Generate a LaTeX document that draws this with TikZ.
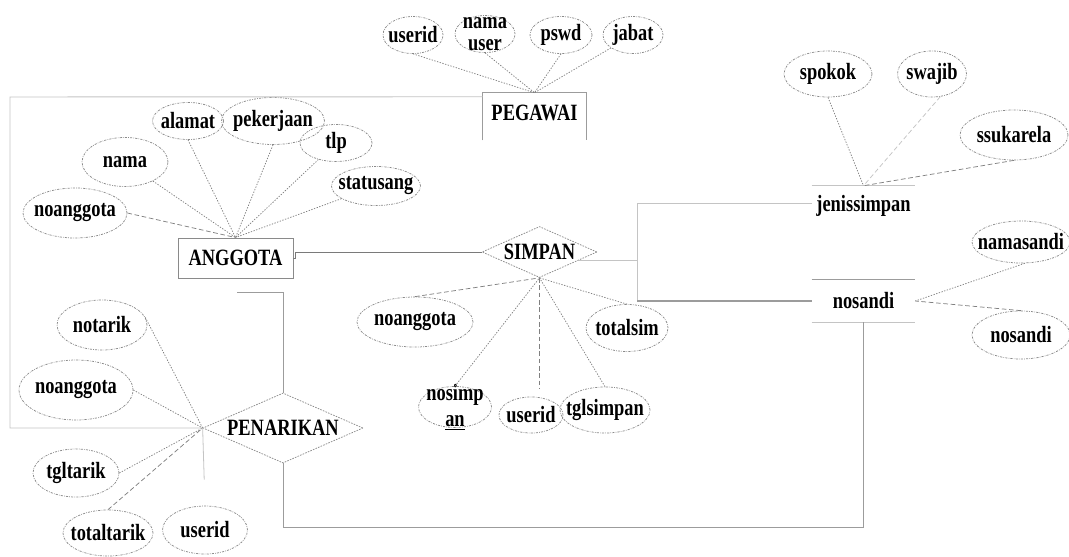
\documentclass[tikz,border=0pt]{standalone}
\usepackage{fontspec}
\setmainfont{Liberation Serif}[FakeStretch=0.79]
\usetikzlibrary{shapes.geometric,calc}
\definecolor{rimgray}{HTML}{8A8A8A}
\definecolor{darkline}{HTML}{7A7A7A}
\definecolor{midline}{HTML}{9C9C9C}
\definecolor{lightline}{HTML}{C4C4C4}
\definecolor{attrgray}{HTML}{808080}
\tikzset{
  lbl/.style={inner sep=0pt, align=center, text=black},
  % attribute ellipse: width, height (px), text
  attr/.style n args={3}{ellipse, draw=rimgray, line width=0.55pt,
    dash pattern=on 1.6pt off 0.9pt on 0.5pt off 0.9pt,
    inner sep=0pt, minimum width=#1*0.75pt, minimum height=#2*0.75pt,
    label={[lbl]center:#3}},
  % relationship diamond: width, height (px), text
  rel/.style n args={3}{diamond, draw=rimgray, line width=0.55pt,
    dash pattern=on 1.2pt off 0.9pt,
    inner sep=0pt, minimum width=#1*0.75pt, minimum height=#2*0.75pt,
    label={[lbl]center:#3}},
  ent/.style n args={2}{rectangle, inner sep=0pt,
    minimum width=#1*0.75pt, minimum height=#2*0.75pt},
  aline/.style={draw=attrgray, line width=0.55pt, dash pattern=on 1pt off 1.1pt},
  adash/.style={draw=attrgray, line width=0.55pt, dash pattern=on 3.5pt off 2pt},
  conn/.style={draw=midline, line width=0.7pt},
}
\begin{document}
\begin{tikzpicture}[x=0.75pt, y=-0.75pt, font=\fontsize{17.5}{16}\selectfont\bfseries]
\useasboundingbox[fill=white] (0,0) rectangle (1069,556);

% ---------- entities ----------
\node[ent={103}{47}] (peg) at (534.5,116.5) {};
\node[lbl] at (534.5,113) {PEGAWAI};
\draw[draw=midline, line width=0.7pt] (peg.south west) -- (peg.north west) -- (peg.north east) -- (peg.south east);

\node[ent={115}{40}, draw=rimgray, line width=0.7pt] (ang) at (235.5,258) {ANGGOTA};

\node[ent={103}{40}] (js) at (863.5,206) {jenissimpan};
\draw[draw=lightline, line width=0.7pt] (js.north west) -- (js.north east);

\node[ent={103}{42}] (ns) at (863.5,301) {nosandi};
\draw[draw=midline, line width=0.8pt] (ns.north west) -- (ns.north east);
\draw[draw=lightline, line width=0.7pt] (ns.south west) -- (ns.south east);

% ---------- relationships ----------
\node[rel={115}{51}{SIMPAN}] (sim) at (539.5,252) {};
\node[rel={160}{70}{PENARIKAN}] (pen) at (283,428) {};

% ---------- PEGAWAI attributes ----------
\node[attr={60}{37}{userid}] (pu1) at (413,35) {};
\node[attr={60}{37}{nama\\[0pt]user}] (pu2) at (485,34) {};
\node[attr={62}{37}{pswd}] (pu3) at (561,35) {};
\node[attr={60}{37}{jabat}] (pu4) at (633,35) {};
\draw[aline] (pu1.south) -- (peg.north);
\draw[aline] (pu2.south) -- (peg.north);
\draw[aline] (pu3.south) -- (peg.north);
\draw[aline] (pu4) -- (peg.north);

% ---------- ANGGOTA attributes ----------
\node[attr={104}{50}{noanggota}] (aa1) at (75,213) {};
\node[attr={86}{49}{nama}] (aa2) at (125,162) {};
\node[attr={71}{37}{alamat}] (aa3) at (188,121) {};
\node[attr={103}{47}{pekerjaan}] (aa4) at (273,121) {};
\node[attr={72}{37}{tlp}] (aa5) at (336,143) {};
\node[attr={89}{39}{statusang}] (aa6) at (376,186) {};
\draw[adash] (aa1.east) -- (ang.north);
\draw[aline] (aa2) -- (ang.north);
\draw[aline] (aa3.south) -- (ang.north);
\draw[aline] (aa4.south) -- (ang.north);
\draw[aline] (aa5) -- (ang.north);
\draw[aline] (aa6) -- (ang.north);

% ---------- SIMPAN attributes ----------
\node[attr={116}{50}{noanggota}] (sa1) at (415,322) {};
\node[attr={82}{47}{totalsim}] (sa2) at (627,328) {};
\node[attr={73}{41}{nosimp\\[4pt]\underline{an}}] (sa3) at (455,407) {};
\node[attr={64}{36}{userid}] (sa4) at (531,415) {};
\node[attr={90}{46}{tglsimpan}] (sa5) at (605,410) {};
\draw[adash] (sa1.north) -- (sim.south);
\draw[aline] (sa2.north) -- (sim.south);
\draw[aline] (sa3.north) -- (sim.south);
\draw[adash] (sim.south) -- ($(sim.south |- sa4.north)+(0,-8)$);
\draw[aline] (sa5.north) -- (sim.south);

% ---------- jenissimpan attributes ----------
\node[attr={88}{46}{spokok}] (ja1) at (828,74) {};
\node[attr={69}{46}{swajib}] (ja2) at (932,74) {};
\node[attr={108}{50}{ssukarela}] (ja3) at (1014,135) {};
\draw[aline] (ja1.south) -- (js.north);
\draw[adash, draw=lightline] (ja2.-70) -- (js.north);
\draw[adash] (ja3.south) -- (js.north);

% ---------- nosandi attributes ----------
\node[attr={98}{42}{namasandi}] (na1) at (1021,242) {};
\node[attr={98}{48}{nosandi}] (na2) at (1021,335) {};
\draw[aline] (na1.-80) -- (ns.east);
\draw[adash] (na2.north) -- (ns.east);

% ---------- PENARIKAN attributes ----------
\node[attr={90}{50}{notarik}] (pa1) at (102,325) {};
\node[attr={114}{60}{noanggota}] (pa2) at (76,390) {};
\node[attr={86}{48}{tgltarik}] (pa3) at (76,473) {};
\node[attr={90}{46}{totaltarik}] (pa4) at (108,533) {};
\node[attr={85}{48}{userid}] (pa5) at (205,530) {};
\draw[aline] (pa1.10) -- (pen.west);
\draw[aline] (pa2.east) -- (pen.west);
\draw[aline] (pa3.east) -- (pen.west);
\draw[adash] (pa4.north) -- (pen.west);
\draw[draw=lightline, line width=0.6pt, shorten >=19.5pt] (pen.west) -- (pa5.north);

% ---------- connectors ----------
% outer frame from PEGAWAI round to PENARIKAN
\draw[conn, draw=lightline] ($(peg.north west)+(0,4)$) -- (10,97) -- (10,428) -- (pen.west);
% ANGGOTA -- SIMPAN
\draw[conn, draw=darkline] (ang.east) -- ++(2,0) |- (sim.west);
% ANGGOTA -- PENARIKAN
\coordinate (angdrop) at (237,292);
\draw[conn] (angdrop) -| (pen.north);
% PENARIKAN -- nosandi
\draw[conn, draw=midline] (pen.south) -- ++(0,64) -| (ns.south);
% SIMPAN -- jenissimpan / nosandi
\coordinate (brtop) at (637,203);
\coordinate (brbot) at (637,301);
\coordinate (brmid) at (637,260);
\draw[conn, draw=lightline] ($(sim.east)+(-18,8)$) -- (brmid);
\draw[conn, draw=lightline] (js.west |- brtop) -- (brtop) -- (brbot);
\draw[conn, draw=midline, line width=0.9pt] (brbot) -- (ns.west);
\end{tikzpicture}
\end{document}
